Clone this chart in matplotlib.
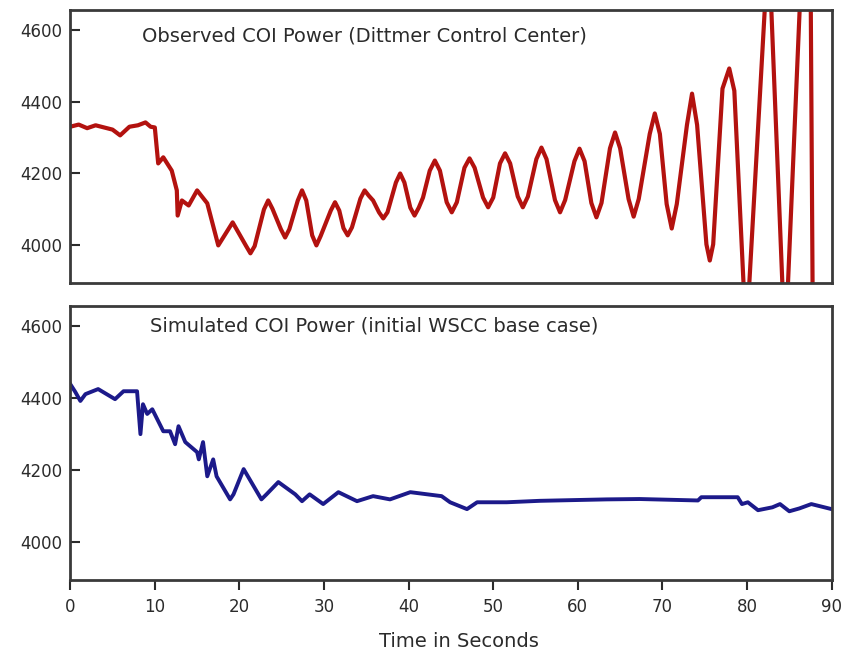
import matplotlib
matplotlib.use('Agg')
import matplotlib.pyplot as plt

# observed COI power (red): time [s], MW
obs_t = [0.0, 1.0, 2.0, 3.0, 4.0, 5.0, 5.9, 7.0, 8.0, 8.9, 9.5, 10.0, 10.4, 11.0, 12.0,
         12.6, 12.7, 13.2, 14.0, 15.0, 16.2, 17.5, 19.2,
         20.8, 21.3, 21.8, 22.9, 23.4, 23.9, 24.9, 25.4, 25.9, 26.9, 27.4, 27.9,
         28.6, 29.1, 29.6, 30.8, 31.3, 31.8, 32.3, 32.8, 33.3, 34.3, 34.8, 35.3, 35.8,
         36.5, 37.0, 37.5, 38.5, 39.0, 39.5, 40.2, 40.7, 41.2, 41.7,
         42.5, 43.1, 43.7, 44.5, 45.1, 45.7, 46.6, 47.2, 47.8, 48.8, 49.4, 50.0,
         50.8, 51.4, 52.0, 52.9, 53.5, 54.1, 55.1, 55.7, 56.3, 57.3, 57.9, 58.5,
         59.6, 60.2, 60.8, 61.6, 62.2, 62.8, 63.8, 64.4, 65.0, 66.0, 66.6, 67.2,
         68.5, 69.1, 69.7, 70.5, 71.1, 71.7, 72.9, 73.5, 74.1, 75.2, 75.6, 76.0,
         77.1, 77.9, 78.5, 79.9, 82.55, 84.5, 86.9, 87.5, 87.8]
obs_p = [4330, 4336, 4326, 4334, 4328, 4322, 4306, 4330, 4334, 4342, 4330, 4328, 4228,
         4245, 4208, 4153, 4083, 4125, 4111, 4153, 4117, 4000, 4064,
         3998, 3978, 3998, 4100, 4125, 4102, 4045, 4022, 4045, 4125, 4153, 4125,
         4028, 4000, 4026, 4097, 4120, 4097, 4048, 4028, 4050, 4130, 4153, 4138, 4125,
         4092, 4075, 4092, 4175, 4200, 4175, 4105, 4083, 4105, 4133,
         4208, 4236, 4208, 4120, 4092, 4120, 4216, 4242, 4216, 4133, 4106, 4133,
         4228, 4256, 4228, 4136, 4106, 4136, 4240, 4272, 4240, 4126, 4092, 4126,
         4234, 4269, 4234, 4118, 4078, 4118, 4270, 4314, 4270, 4129, 4080, 4129,
         4310, 4367, 4310, 4115, 4047, 4115, 4335, 4422, 4335, 4003, 3958, 4003,
         4436, 4492, 4430, 3740, 4845, 3705, 5030, 4800, 3700]

# simulated COI power (blue), initial WSCC base case
sim_t = [0.0, 0.6, 1.2, 1.8, 3.3, 5.3, 6.3, 7.9, 8.3, 8.6, 9.1, 9.7, 11.0, 11.8, 12.4,
         12.8, 13.6, 15.0, 15.2, 15.7, 16.2, 16.9, 17.3, 18.9, 19.3, 20.5, 22.6, 23.2,
         24.6, 26.6, 27.4, 28.3, 29.9, 31.7, 33.9, 35.8, 37.8, 40.2, 43.9, 44.9, 46.9,
         48.1, 51.6, 55.5, 63.4, 67.3, 74.2, 74.6, 78.9, 79.4, 80.1, 81.3, 83.0, 83.9,
         85.0, 86.2, 87.6, 90.0]
sim_p = [4439, 4417, 4392, 4411, 4425, 4397, 4419, 4419, 4300, 4383, 4356, 4369, 4308,
         4308, 4272, 4322, 4278, 4250, 4230, 4278, 4183, 4230, 4183, 4119, 4133, 4203,
         4119, 4133, 4167, 4133, 4114, 4133, 4106, 4139, 4114, 4128, 4119, 4139, 4128,
         4111, 4092, 4111, 4111, 4115, 4119, 4120, 4116, 4125, 4125, 4106, 4111, 4089,
         4097, 4106, 4086, 4094, 4106, 4092]

panel_titles = ['Observed COI Power (Dittmer Control Center)',
                'Simulated COI Power (initial WSCC base case)']
y_ticks = [4000, 4200, 4400, 4600]
x_ticks = [0, 10, 20, 30, 40, 50, 60, 70, 80, 90]

plt.rcParams['font.family'] = ['DejaVu Sans']
txtColor = '#2b2b2b'

fig = plt.figure(figsize=(8.46, 6.57), dpi=100)
axTop = fig.add_axes([0.083, 0.569, 0.900, 0.416])
axBot = fig.add_axes([0.083, 0.117, 0.900, 0.417])

axTop.plot(obs_t, obs_p, color='#b3120f', lw=3.0, solid_joinstyle='round')
axBot.plot(sim_t, sim_p, color='#1c1a8a', lw=2.8, solid_joinstyle='round')

for ax, title, xpos, ypos in [(axTop, panel_titles[0], 0.094, 0.905),
                              (axBot, panel_titles[1], 0.105, 0.928)]:
    ax.set_xlim(0, 90)
    ax.set_ylim(3895, 4655)
    ax.set_yticks(y_ticks)
    ax.tick_params(axis='y', direction='in', length=7, width=1.5, pad=6,
                   labelsize=12, colors=txtColor)
    for s in ax.spines.values():
        s.set_linewidth(2.0)
        s.set_color('#3a3a3a')
    ax.text(xpos, ypos, title, transform=ax.transAxes, fontsize=14,
            color=txtColor, ha='left', va='center')

axTop.set_xticks([])
axBot.set_xticks(x_ticks)
axBot.tick_params(axis='x', direction='out', length=7, width=1.5, pad=6,
                  labelsize=12, colors=txtColor)
axBot.set_xlabel('Time in Seconds', fontsize=14, color=txtColor)
axBot.xaxis.set_label_coords(0.51, -0.19)

fig.savefig('out.png', dpi=100)
